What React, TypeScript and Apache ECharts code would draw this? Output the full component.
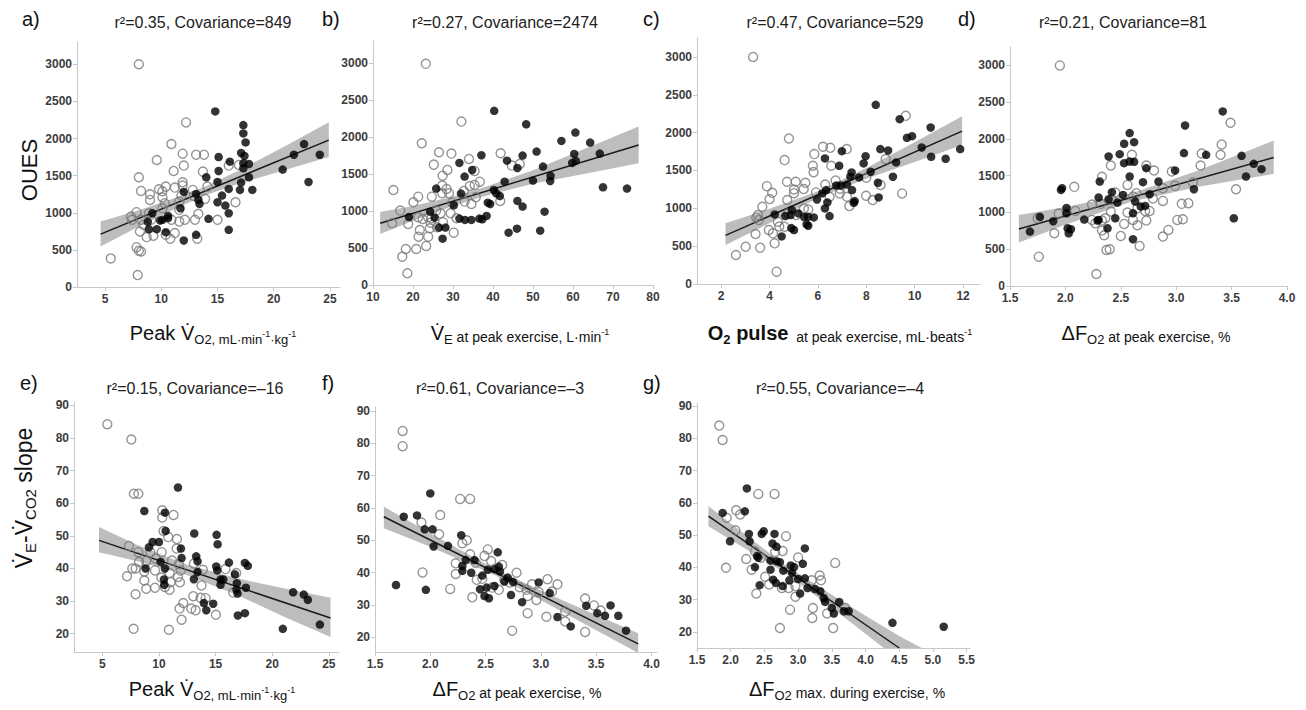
import React, { useEffect, useRef } from 'react';
import * as echarts from 'echarts';

const FF = "'Liberation Sans', Arial, Helvetica, sans-serif";

// ---------- tick labels ----------
const ticksVO2 = [5, 10, 15, 20, 25];
const ticksOUES = [0, 500, 1000, 1500, 2000, 2500, 3000];
const ticksVE = [10, 20, 30, 40, 50, 60, 70, 80];
const ticksPulse = [2, 4, 6, 8, 10, 12];
const ticksDF = [1.5, 2.0, 2.5, 3.0, 3.5, 4.0];
const ticksSlope = [20, 30, 40, 50, 60, 70, 80, 90];
const ticksDFmax = [1.5, 2.0, 2.5, 3.0, 3.5, 4.0, 4.5, 5.0, 5.5];

// ---------- panel a: OUES vs peak VO2 ----------
const aOpen = [
  [8.0, 3000], [12.2, 2217], [10.9, 1925], [9.6, 1711], [11.9, 1796], [12.0, 1635], [13.1, 1782], [13.8, 1782],
  [11.1, 1563], [8.0, 1478], [13.7, 1554], [11.9, 1411], [11.9, 1366], [8.2, 1294], [9.8, 1317], [10.4, 1352],
  [11.2, 1339], [12.8, 1308], [9.0, 1249], [9.0, 1173], [10.1, 1290], [10.1, 1209], [13.9, 1187], [14.1, 1352],
  [11.8, 1231], [11.6, 1151], [10.3, 1129], [10.1, 1061], [11.6, 1039], [7.8, 1008], [7.3, 949], [7.4, 905],
  [8.2, 905], [8.9, 994], [13.3, 985], [13.0, 905], [12.1, 905], [11.6, 882], [10.9, 905], [15.0, 905],
  [16.6, 1142], [16.0, 1635], [16.9, 1644], [8.1, 748], [8.7, 672], [9.3, 690], [10.4, 703], [10.8, 649],
  [11.2, 726], [13.2, 649], [7.8, 537], [8.0, 488], [8.2, 479], [5.5, 385], [7.9, 161], [9.1, 905],
  [8.4, 837], [12.9, 1227],
];
const aFilled = [
  [14.8, 2365], [17.3, 2181], [17.3, 2069], [17.5, 1948], [17.1, 1805], [17.4, 1765], [15.1, 1751], [16.1, 1688],
  [17.3, 1666], [17.8, 1657], [17.3, 1599], [14.0, 1478], [15.1, 1563], [17.8, 1478], [15.0, 1415], [17.1, 1406],
  [18.1, 1308], [17.0, 1308], [16.0, 1321], [12.0, 1281], [13.1, 1254], [13.3, 1173], [13.4, 1120], [15.0, 1142],
  [15.4, 1231], [15.7, 1097], [11.7, 1061], [16.0, 994], [9.2, 994], [10.6, 958], [9.9, 896], [10.1, 905],
  [10.6, 927], [8.8, 878], [8.9, 779], [9.6, 779], [10.4, 739], [14.2, 918], [16.0, 770], [13.1, 703],
  [12.0, 627], [20.8, 1581], [21.8, 1782], [22.7, 1925], [23.1, 1415], [24.1, 1782],
];
const aLine = [[4.6, 712], [24.9, 1979]];
const aBand = [[4.6, 546, 882], [8, 814, 1034], [12, 1109, 1239], [14, 1239, 1359], [17, 1396, 1576], [21, 1575, 1895], [24.9, 1750, 2220]];

// ---------- panel b: OUES vs VE ----------
const bOpen = [
  [23.2, 2991], [32.1, 2210], [22.2, 1917], [26.5, 1795], [29.6, 1777], [41.9, 1782], [25.2, 1628], [27.4, 1479],
  [28.6, 1556], [34.0, 1705], [35.4, 1543], [44.7, 1615], [46.7, 1637], [15.1, 1285], [21.3, 1195], [20.1, 1119],
  [24.7, 1195], [27.3, 1344], [28.4, 1299], [29.0, 1240], [27.3, 1240], [32.7, 1272], [34.2, 1340], [35.4, 1353],
  [36.7, 1398], [32.9, 1128], [34.6, 1096], [35.7, 1186], [29.8, 1114], [29.4, 970], [16.8, 1006], [25.8, 1006],
  [26.9, 970], [21.3, 916], [22.4, 893], [23.8, 916], [24.6, 902], [30.9, 902], [18.8, 825], [14.8, 834],
  [21.7, 744], [24.2, 767], [24.4, 843], [21.4, 654], [23.8, 654], [30.2, 708], [18.2, 487], [20.8, 487],
  [17.3, 383], [23.3, 528], [18.6, 158], [41.8, 1137], [26.0, 780], [27.5, 850],
];
const bFilled = [
  [40.3, 2355], [48.3, 2174], [57.1, 1949], [60.6, 2061], [64.3, 1926], [37.1, 1755], [31.6, 1651], [47.4, 1750],
  [50.9, 1804], [43.5, 1682], [46.1, 1583], [52.5, 1601], [60.3, 1773], [59.8, 1651], [60.7, 1678], [66.7, 1777],
  [32.9, 1466], [34.8, 1556], [42.9, 1398], [50.0, 1412], [54.4, 1475], [54.3, 1407], [25.8, 1304], [32.0, 1236],
  [40.2, 1285], [40.8, 1240], [41.7, 1204], [67.5, 1322], [73.5, 1304], [38.7, 1114], [39.3, 1096], [46.1, 1137],
  [47.4, 1060], [30.2, 1078], [24.3, 992], [19.0, 920], [25.4, 911], [26.5, 776], [28.1, 776], [27.4, 627],
  [31.6, 898], [33.0, 880], [34.6, 880], [36.6, 898], [37.3, 889], [38.4, 934], [52.9, 992], [43.9, 708],
  [46.0, 762], [51.8, 735],
];
const bLine = [[11.8, 834], [76.4, 1894]];
const bBand = [[11.8, 690, 988], [20, 868, 1068], [30, 1068, 1198], [38, 1204, 1324], [50, 1371, 1551], [63, 1504, 1844], [76.4, 1646, 2142]];

// ---------- panel c: OUES vs O2 pulse ----------
const cOpen = [
  [3.32, 3000], [9.63, 2222], [4.80, 1923], [6.21, 1813], [6.51, 1799], [7.19, 1782], [5.85, 1716], [4.62, 1637],
  [6.55, 1562], [5.79, 1562], [5.82, 1478], [3.89, 1293], [4.11, 1205], [4.00, 1122], [4.72, 1351], [5.08, 1351],
  [5.48, 1337], [5.41, 1254], [5.01, 1249], [5.01, 1200], [5.92, 1210], [6.30, 1315], [6.73, 1368], [6.91, 1258],
  [7.20, 1153], [6.90, 1197], [7.99, 1166], [8.00, 1403], [8.80, 1650], [8.59, 1307], [8.26, 1109], [9.48, 1197],
  [7.30, 1030], [6.48, 1153], [4.73, 1109], [3.70, 1021], [3.52, 911], [3.56, 845], [3.97, 713], [4.14, 669],
  [3.42, 660], [4.34, 823], [4.76, 933], [5.10, 911], [5.42, 999], [5.60, 985], [3.61, 480], [3.01, 493],
  [2.61, 383], [4.21, 537], [4.29, 163], [4.62, 757], [3.45, 880], [4.40, 760],
];
const cFilled = [
  [8.39, 2367], [9.38, 2178], [10.66, 2068], [9.68, 1931], [9.89, 1953], [10.29, 1804], [6.99, 1755], [8.58, 1782],
  [8.90, 1764], [7.97, 1689], [6.29, 1659], [7.89, 1593], [6.88, 1562], [7.39, 1474], [8.18, 1483], [9.23, 1606],
  [10.68, 1681], [11.28, 1654], [11.88, 1782], [7.34, 1417], [7.70, 1408], [9.10, 1417], [6.76, 1302], [6.95, 1302],
  [7.20, 1315], [6.34, 1241], [6.18, 1197], [5.96, 1117], [7.52, 1095], [7.48, 1073], [8.48, 1337], [8.51, 1144],
  [7.41, 1241], [6.39, 1078], [6.29, 999], [6.48, 897], [4.21, 919], [4.65, 897], [4.87, 911], [4.92, 977],
  [5.19, 933], [5.43, 884], [5.59, 889], [5.83, 880], [5.53, 787], [5.60, 770], [4.90, 739], [5.01, 713],
  [4.50, 629],
];
const cLine = [[2.18, 642], [11.96, 2019]];
const cBand = [[2.18, 515, 801], [4, 803, 993], [6, 1135, 1225], [8, 1391, 1531], [10, 1613, 1873], [11.96, 1835, 2217]];

// ---------- panel d: OUES vs dFO2 at peak ----------
const dOpen = [
  [1.95, 3000], [3.49, 2220], [3.41, 1925], [3.40, 1784], [3.23, 1802], [3.22, 1639], [2.60, 1784], [2.41, 1639],
  [2.73, 1639], [2.80, 1571], [2.96, 1557], [2.33, 1484], [2.08, 1348], [2.88, 1330], [2.99, 1362], [3.15, 1407],
  [3.54, 1316], [2.56, 1375], [2.45, 1271], [2.64, 1262], [2.61, 1217], [2.79, 1189], [2.88, 1157], [2.24, 1108],
  [2.32, 1117], [2.42, 1171], [2.09, 1021], [1.94, 985], [1.75, 921], [2.41, 1012], [2.56, 999], [2.65, 1058],
  [2.72, 1021], [2.76, 1021], [3.05, 1117], [3.11, 1126], [2.24, 899], [2.33, 890], [2.36, 921], [2.61, 899],
  [2.73, 890], [2.65, 826], [2.53, 844], [3.01, 899], [3.06, 908], [2.27, 853], [1.90, 717], [2.33, 754],
  [2.35, 690], [2.50, 681], [2.93, 763], [2.88, 672], [2.67, 545], [2.37, 490], [2.40, 499], [1.76, 399],
  [2.28, 163],
];
const dFilled = [
  [3.42, 2374], [3.08, 2183], [2.58, 2079], [2.53, 1934], [2.62, 1956], [2.39, 1761], [2.49, 1793], [2.53, 1670],
  [2.58, 1693], [2.62, 1689], [3.07, 1807], [3.27, 1784], [3.59, 1770], [3.70, 1661], [3.77, 1589], [3.63, 1489],
  [2.73, 1602], [2.99, 1571], [2.58, 1489], [2.31, 1421], [2.70, 1412], [2.84, 1421], [1.97, 1330], [1.96, 1307],
  [2.42, 1276], [2.52, 1239], [2.30, 1203], [2.76, 1248], [3.16, 1316], [2.63, 1148], [2.47, 1135], [2.39, 1180],
  [2.72, 1089], [2.68, 1080], [2.01, 1062], [2.01, 990], [1.77, 940], [1.89, 881], [2.17, 903], [2.29, 890],
  [2.30, 899], [2.45, 921], [2.61, 990], [1.68, 740], [2.02, 785], [2.03, 717], [2.05, 772], [2.38, 785],
  [2.61, 636], [3.52, 921],
];
const dLine = [[1.58, 776], [3.88, 1748]];
const dBand = [[1.58, 590, 967], [2.0, 833, 1073], [2.6, 1150, 1262], [3.2, 1351, 1571], [3.88, 1525, 1979]];

// ---------- panel e: VE-VCO2 slope vs peak VO2 ----------
const eOpen = [
  [5.44, 84.2], [7.56, 79.5], [7.79, 62.9], [8.18, 62.9], [10.29, 57.8], [11.29, 56.4], [10.29, 55.6], [10.41, 51.5],
  [10.82, 49.6], [11.59, 49.0], [11.56, 46.1], [7.35, 46.9], [8.18, 45.0], [9.24, 45.0], [10.24, 45.0], [8.88, 42.3],
  [8.24, 42.0], [9.71, 43.0], [11.15, 42.4], [11.76, 41.3], [11.91, 39.4], [13.09, 41.5], [13.88, 39.6], [15.88, 39.8],
  [16.82, 38.6], [7.18, 37.6], [7.65, 40.0], [7.94, 40.0], [8.71, 39.1], [9.65, 39.4], [10.21, 37.2], [11.03, 35.8],
  [11.68, 37.4], [11.85, 35.8], [10.94, 38.6], [8.71, 36.3], [8.88, 33.8], [9.65, 34.1], [10.53, 34.3], [10.94, 33.5],
  [13.76, 34.8], [7.94, 32.1], [13.03, 31.5], [13.68, 31.0], [14.12, 30.9], [12.15, 29.4], [11.82, 27.7], [12.85, 27.7],
  [13.24, 27.2], [12.0, 24.3], [15.03, 25.8], [16.56, 32.6], [7.76, 21.5], [10.88, 21.2],
];
const eFilled = [
  [11.68, 64.8], [8.71, 57.6], [10.53, 57.1], [10.59, 51.5], [13.12, 50.7], [15.09, 50.3], [15.18, 47.4], [9.44, 48.1],
  [10.0, 48.1], [9.12, 46.5], [11.94, 46.1], [13.29, 43.7], [12.0, 43.2], [10.15, 42.0], [13.41, 42.2], [16.18, 41.8],
  [17.59, 41.7], [17.85, 40.8], [15.06, 40.6], [15.15, 39.4], [10.53, 40.0], [8.82, 40.0], [13.41, 38.9], [16.71, 38.2],
  [15.44, 36.6], [15.68, 36.6], [15.44, 35.0], [13.09, 36.7], [10.44, 36.6], [10.47, 35.0], [16.88, 35.5], [16.85, 33.5],
  [16.94, 32.3], [17.68, 34.1], [21.85, 32.7], [22.79, 32.0], [23.15, 30.4], [13.97, 29.4], [14.79, 29.2], [14.18, 27.2],
  [16.97, 25.6], [17.59, 26.3], [20.94, 21.5], [24.21, 22.8],
];
const eLine = [[4.71, 48.6], [25.15, 24.8]];
const eBand = [[4.71, 45.0, 52.7], [8, 42.3, 47.3], [12.5, 37.9, 41.1], [17, 31.7, 36.9], [21, 25.3, 33.9], [25.15, 19.0, 31.0]];

// ---------- panel f: VE-VCO2 slope vs dFO2 at peak ----------
const fOpen = [
  [1.75, 83.8], [1.75, 79.1], [2.27, 62.8], [2.36, 62.8], [2.09, 57.8], [1.92, 55.5], [2.08, 51.9], [2.29, 49.1],
  [2.33, 50.0], [2.36, 45.7], [2.52, 47.2], [2.49, 45.2], [2.55, 43.6], [2.23, 42.9], [2.41, 43.1], [2.65, 42.4],
  [2.23, 39.6], [1.93, 40.1], [2.42, 37.8], [2.47, 38.1], [2.56, 35.4], [2.62, 34.7], [2.67, 37.8], [2.78, 40.0],
  [2.72, 37.0], [2.81, 35.5], [2.87, 34.7], [2.92, 36.4], [2.98, 34.0], [3.06, 38.0], [3.15, 36.4], [3.10, 34.2],
  [2.96, 31.6], [2.88, 32.8], [2.88, 27.5], [3.05, 26.4], [3.22, 24.9], [3.22, 28.0], [3.40, 32.0], [3.48, 29.9],
  [3.54, 28.3], [3.40, 21.7], [2.74, 22.1], [2.38, 32.4], [2.18, 35.0],
];
const fFilled = [
  [2.00, 64.5], [1.76, 57.3], [1.88, 57.7], [1.95, 53.4], [2.02, 53.4], [2.03, 48.1], [2.16, 48.3], [2.28, 51.6],
  [2.29, 42.1], [2.32, 43.9], [2.40, 43.9], [2.29, 40.6], [2.37, 40.0], [2.52, 40.9], [2.58, 41.1], [2.61, 46.3],
  [2.62, 41.9], [2.63, 40.4], [2.58, 35.9], [2.47, 39.1], [2.51, 35.4], [2.45, 34.9], [2.49, 32.8], [2.53, 32.1],
  [2.70, 38.5], [2.67, 37.3], [2.75, 37.1], [2.73, 33.1], [2.98, 37.0], [3.08, 33.7], [2.83, 30.9], [1.69, 36.2],
  [1.96, 34.7], [3.15, 26.3], [3.27, 23.4], [3.41, 29.8], [3.51, 27.5], [3.58, 26.7], [3.63, 29.9], [3.70, 26.7],
  [3.77, 22.1],
];
const fLine = [[1.58, 57.3], [3.88, 18.0]];
const fBand = [[1.58, 53.7, 60.4], [2.0, 48.0, 52.2], [2.6, 39.0, 40.8], [3.2, 27.8, 31.4], [3.88, 15.2, 21.3]];

// ---------- panel g: VE-VCO2 slope vs dFO2 max ----------
const gOpen = [
  [1.83, 84.0], [1.88, 79.5], [2.41, 62.8], [2.65, 62.8], [2.08, 57.7], [2.14, 56.4], [1.94, 55.4], [2.07, 51.5],
  [2.82, 49.7], [2.23, 42.6], [1.93, 39.9], [2.36, 45.0], [2.77, 45.1], [2.66, 44.8], [2.45, 43.0], [2.31, 39.3],
  [3.00, 43.1], [2.51, 37.1], [2.57, 34.7], [2.76, 33.6], [2.86, 33.6], [2.96, 34.2], [3.20, 36.0], [3.32, 37.5],
  [3.34, 36.0], [3.55, 41.4], [2.96, 30.9], [2.38, 31.9], [2.88, 26.9], [3.22, 27.4], [3.21, 24.3], [3.43, 25.7],
  [3.52, 21.2], [2.73, 21.2], [3.70, 27.4],
];
const gFilled = [
  [2.24, 64.5], [1.88, 56.9], [2.21, 57.4], [2.27, 50.4], [2.28, 48.1], [1.99, 48.1], [2.46, 50.4], [2.49, 51.2],
  [2.65, 50.4], [2.62, 47.4], [2.68, 46.4], [3.10, 45.9], [2.39, 43.5], [2.41, 43.0], [2.59, 42.1], [2.68, 41.9],
  [2.73, 41.6], [2.89, 40.6], [2.94, 40.1], [3.07, 41.1], [2.36, 40.1], [2.59, 39.3], [2.78, 39.0], [2.91, 38.3],
  [2.63, 36.2], [2.67, 35.2], [2.87, 36.0], [3.00, 36.4], [3.10, 36.6], [3.14, 33.6], [3.03, 31.9], [3.25, 33.3],
  [3.33, 32.6], [3.38, 30.5], [3.40, 29.3], [3.50, 27.4], [3.53, 25.7], [3.61, 29.3], [3.68, 26.4], [3.75, 26.4],
  [2.43, 34.5], [2.77, 34.2], [4.40, 22.8], [5.16, 21.6],
];
const gLine = [[1.67, 55.9], [4.5, 15.0]];
const gBand = [[1.67, 52.8, 59.0], [2.8, 38.4, 40.8], [3.5, 27.5, 31.5], [4.0, 19.4, 25.0], [4.5, 11.3, 18.7], [4.85, 5.1, 14.8]];

const titles = [
  'r²=0.35, Covariance=849',
  'r²=0.27, Covariance=2474',
  'r²=0.47, Covariance=529',
  'r²=0.21, Covariance=81',
  'r²=0.15, Covariance=–16',
  'r²=0.61, Covariance=–3',
  'r²=0.55, Covariance=–4',
];
const letters = ['a)', 'b)', 'c)', 'd)', 'e)', 'f)', 'g)'];

const panels = [
  { grid: { left: 77, top: 42, width: 263, height: 245 }, x: [2.5, 25.9], xt: ticksVO2, dec: false, y: [0, 3300], yt: ticksOUES,
    open: aOpen, filled: aFilled, line: aLine, band: aBand, title: [203, 22], letter: [22, 19] },
  { grid: { left: 373, top: 41, width: 280, height: 244 }, x: [10, 80], xt: ticksVE, dec: false, y: [0, 3300], yt: ticksOUES,
    open: bOpen, filled: bFilled, line: bLine, band: bBand, title: [505, 22], letter: [322, 19] },
  { grid: { left: 697, top: 38, width: 283, height: 246 }, x: [1, 12.7], xt: ticksPulse, dec: false, y: [0, 3250], yt: ticksOUES,
    open: cOpen, filled: cFilled, line: cLine, band: cBand, title: [835, 22], letter: [643, 19] },
  { grid: { left: 1010, top: 47, width: 277, height: 239 }, x: [1.5, 4.0], xt: ticksDF, dec: true, y: [0, 3250], yt: ticksOUES,
    open: dOpen, filled: dFilled, line: dLine, band: dBand, title: [1123, 22], letter: [958, 19] },
  { grid: { left: 74, top: 402, width: 265, height: 250 }, x: [2.5, 25.9], xt: ticksVO2, dec: false, y: [14.4, 91], yt: ticksSlope,
    open: eOpen, filled: eFilled, line: eLine, band: eBand, title: [195, 388], letter: [20, 383] },
  { grid: { left: 375, top: 407, width: 282, height: 245 }, x: [1.5, 4.05], xt: ticksDF, dec: true, y: [15.5, 91.2], yt: ticksSlope,
    open: fOpen, filled: fFilled, line: fLine, band: fBand, title: [500, 388], letter: [322, 383] },
  { grid: { left: 697, top: 403, width: 273, height: 245 }, x: [1.5, 5.55], xt: ticksDFmax, dec: true, y: [15, 91], yt: ticksSlope,
    open: gOpen, filled: gFilled, line: gLine, band: gBand, title: [840, 388], letter: [643, 383] },
];

const RICH: any = {
  big: { fontSize: 20, fontFamily: FF, fill: '#111', verticalAlign: 'middle' },
  bigY: { fontSize: 23, fontFamily: FF, fill: '#111', verticalAlign: 'middle' },
  bold: { fontSize: 20, fontFamily: FF, fontWeight: 'bold', fill: '#111', verticalAlign: 'middle' },
  sub: { fontSize: 13, fontFamily: FF, fill: '#111', padding: [12, 0, 0, 0], verticalAlign: 'middle' },
  subY: { fontSize: 15, fontFamily: FF, fill: '#111', padding: [13, 0, 0, 0], verticalAlign: 'middle' },
  subB: { fontSize: 13, fontFamily: FF, fontWeight: 'bold', fill: '#111', padding: [12, 0, 0, 0], verticalAlign: 'middle' },
  sup: { fontSize: 9, fontFamily: FF, fill: '#111', padding: [2, 0, 0, 0], verticalAlign: 'middle' },
  mid: { fontSize: 14, fontFamily: FF, fill: '#111', padding: [7, 0, 0, 0], verticalAlign: 'middle' },
  sup2: { fontSize: 9, fontFamily: FF, fill: '#111', padding: [0, 0, 3, 0], verticalAlign: 'middle' },
};

const V = 'V\u0307';
const xNames: [number, number, string][] = [
  [213, 333, `{big|Peak ${V}}{sub|O2, mL·min}{sup|-1}{sub|·kg}{sup|-1}`],
  [520, 333, `{big|${V}}{sub|E}{mid| at peak exercise, L·min}{sup2|-1}`],
  [840, 333, `{bold|O}{subB|2}{bold| pulse}{mid|  at peak exercise, mL·beats}{sup2|-1}`],
  [1146, 333, `{big|ΔF}{sub|O2}{mid| at peak exercise, %}`],
  [212, 689, `{big|Peak ${V}}{sub|O2, mL·min}{sup|-1}{sub|·kg}{sup|-1}`],
  [517, 689, `{big|ΔF}{sub|O2}{mid| at peak exercise, %}`],
  [847, 689, `{big|ΔF}{sub|O2}{mid| max. during exercise, %}`],
];

export default function App() {
  const ref = useRef<HTMLDivElement>(null);
  useEffect(() => {
    const chart = echarts.init(ref.current!, null, { renderer: 'svg' });
    const grids: any[] = [];
    const xAxes: any[] = [];
    const yAxes: any[] = [];
    const series: any[] = [];
    const graphics: any[] = [];
    const axisLine = { show: true, lineStyle: { color: '#c8c8c8', width: 1 } };
    const axisLabelBase = { fontSize: 12, fontFamily: FF, fontWeight: 'bold', color: '#3c3c3c' };

    panels.forEach((p, i) => {
      grids.push({ ...p.grid, containLabel: false });
      xAxes.push({
        type: 'value', gridIndex: i, min: p.x[0], max: p.x[1],
        axisLine, splitLine: { show: false },
        axisTick: { show: true, length: 4, lineStyle: { color: '#c8c8c8' }, customValues: p.xt },
        axisLabel: { ...axisLabelBase, margin: 6, customValues: p.xt,
          formatter: (v: number) => (p.dec ? v.toFixed(1) : String(v)) },
      });
      yAxes.push({
        type: 'value', gridIndex: i, min: p.y[0], max: p.y[1],
        axisLine, splitLine: { show: false },
        axisTick: { show: true, length: 4, lineStyle: { color: '#c8c8c8' }, customValues: p.yt },
        axisLabel: { ...axisLabelBase, margin: 5, customValues: p.yt, formatter: (v: number) => String(v) },
      });
      const band = p.band;
      series.push({
        type: 'custom', xAxisIndex: i, yAxisIndex: i, clip: true, silent: true, z: 1,
        data: [[band[0][0], band[0][1]]],
        renderItem: (_params: any, api: any) => {
          const up = band.map((b) => api.coord([b[0], b[2]]));
          const lo = band.slice().reverse().map((b) => api.coord([b[0], b[1]]));
          return { type: 'polygon', shape: { points: up.concat(lo) }, style: { fill: '#bdbdbd' } };
        },
      });
      series.push({
        type: 'line', xAxisIndex: i, yAxisIndex: i, data: p.line, symbol: 'none', silent: true, z: 2,
        lineStyle: { color: '#1a1a1a', width: 1.5 },
      });
      series.push({
        type: 'scatter', xAxisIndex: i, yAxisIndex: i, data: p.open, symbolSize: 9, z: 3,
        itemStyle: { color: 'rgba(255,255,255,0)', borderColor: '#787878', borderWidth: 1.4 },
      });
      series.push({
        type: 'scatter', xAxisIndex: i, yAxisIndex: i, data: p.filled, symbolSize: 8.5, z: 4,
        itemStyle: { color: '#000000' },
      });
      graphics.push({
        type: 'text', x: p.title[0], y: p.title[1],
        style: { text: titles[i], fontSize: 16, fontFamily: FF, fill: '#222', align: 'center', verticalAlign: 'middle' },
      });
      graphics.push({
        type: 'text', x: p.letter[0], y: p.letter[1],
        style: { text: letters[i], fontSize: 20, fontFamily: FF, fill: '#111', align: 'left', verticalAlign: 'middle' },
      });
    });

    xNames.forEach(([x, y, t]) => {
      graphics.push({
        type: 'text', x, y,
        style: { text: t, rich: RICH, fontFamily: FF, fill: '#111', align: 'center', verticalAlign: 'middle' },
      });
    });
    graphics.push({
      type: 'text', x: 29, y: 170, rotation: Math.PI / 2,
      style: { text: 'OUES', fontSize: 22, fontFamily: FF, fill: '#111', align: 'center', verticalAlign: 'middle' },
    });
    graphics.push({
      type: 'text', x: 24, y: 498, rotation: Math.PI / 2,
      style: {
        text: `{bigY|${V}}{subY|E}{bigY|-${V}}{subY|CO2}{bigY| slope}`,
        rich: RICH, fontFamily: FF, fill: '#111', align: 'center', verticalAlign: 'middle',
      },
    });

    chart.setOption({
      animation: false,
      backgroundColor: '#ffffff',
      grid: grids,
      xAxis: xAxes,
      yAxis: yAxes,
      series,
      graphic: graphics,
    });
    return () => chart.dispose();
  }, []);
  return (
    <div
      ref={ref}
      style={{ position: 'absolute', left: 0, top: 0, width: 1306, height: 710, background: '#fff' }}
    />
  );
}
